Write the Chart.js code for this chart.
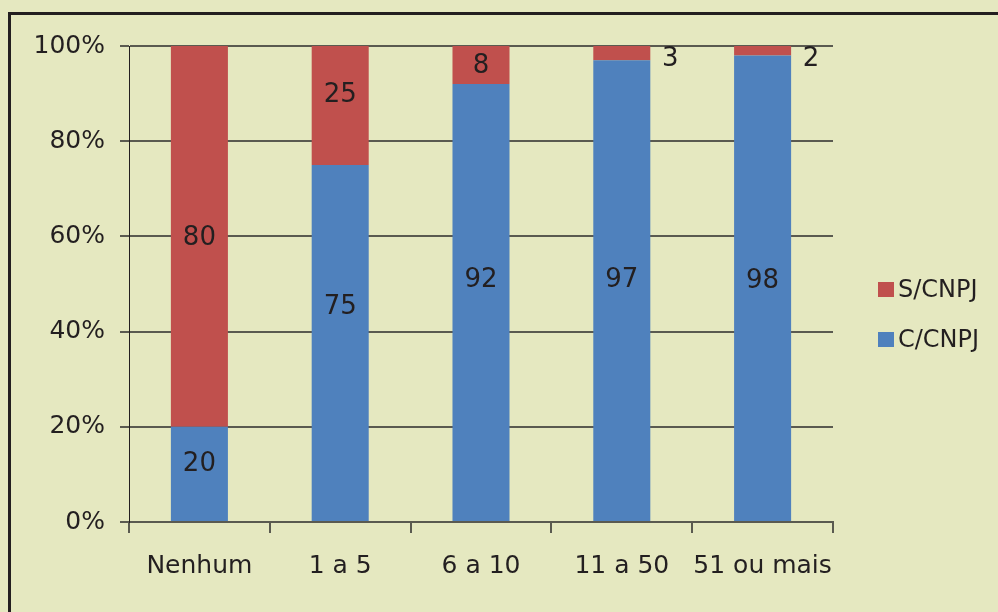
<!DOCTYPE html>
<html>
<head>
<meta charset="utf-8">
<script src="https://cdn.jsdelivr.net/npm/chart.js@4/dist/chart.umd.min.js"></script>
<style>
  html, body { margin: 0; padding: 0; background: #e5e8c0; }
  #wrap { width: 998px; height: 612px; position: relative; }
</style>
</head>
<body>
<div id="wrap"><canvas id="c" width="998" height="612"></canvas></div>
<script>
const categories = ['Nenhum', '1 a 5', '6 a 10', '11 a 50', '51 ou mais'];
const comCNPJ = [20, 75, 92, 97, 98];
const semCNPJ = [80, 25, 8, 3, 2];
const yTicks = [0, 20, 40, 60, 80, 100];

const BG = '#e5e8c0';
const TEXT = '#231f20';
const AXIS = '#5a5a50';
const FONT = 'DejaVu Sans';
const BLUE = '#4f81bd';
const RED = '#c0504d';

// background + frame
const framePlugin = {
  id: 'frame',
  beforeDraw(chart) {
    const ctx = chart.ctx;
    ctx.save();
    ctx.fillStyle = BG;
    ctx.fillRect(0, 0, chart.width, chart.height);
    ctx.strokeStyle = '#231f20';
    ctx.lineWidth = 3;
    ctx.strokeRect(9.5, 13.5, chart.width + 20, chart.height + 20);
    ctx.restore();
  }
};

// value labels inside segments; tiny segments get their label beside the bar
const labelPlugin = {
  id: 'valueLabels',
  afterDatasetsDraw(chart, args, opts) {
    const ctx = chart.ctx;
    ctx.save();
    ctx.font = '26px "' + FONT + '"';
    ctx.fillStyle = TEXT;
    ctx.textAlign = 'center';
    ctx.textBaseline = 'middle';
    chart.data.datasets.forEach((ds, di) => {
      const meta = chart.getDatasetMeta(di);
      const nudge = (opts.nudge && opts.nudge[di]) || [];
      meta.data.forEach((bar, i) => {
        const v = ds.data[i];
        const top = Math.min(bar.y, bar.base);
        const bottom = Math.max(bar.y, bar.base);
        if (v < 5) {
          ctx.fillText(String(v), bar.x + bar.width / 2 + 20, top + 13);
        } else {
          ctx.fillText(String(v), bar.x, (top + bottom) / 2 + 1 + (nudge[i] || 0));
        }
      });
    });
    ctx.restore();
  }
};

// legend on the right
const legendPlugin = {
  id: 'sideLegend',
  afterDraw(chart) {
    const ctx = chart.ctx;
    const items = [...chart.data.datasets].reverse();
    ctx.save();
    ctx.font = '24px "' + FONT + '"';
    ctx.textBaseline = 'middle';
    ctx.textAlign = 'left';
    items.forEach((ds, k) => {
      const cy = 290 + k * 50;
      ctx.fillStyle = ds.backgroundColor;
      ctx.fillRect(878, cy - 8, 16, 15);
      ctx.fillStyle = TEXT;
      ctx.fillText(ds.label, 898, cy + 1);
    });
    ctx.restore();
  }
};

new Chart(document.getElementById('c'), {
  type: 'bar',
  data: {
    labels: categories,
    datasets: [
      { label: 'C/CNPJ', data: comCNPJ, backgroundColor: BLUE },
      { label: 'S/CNPJ', data: semCNPJ, backgroundColor: RED }
    ]
  },
  options: {
    responsive: false,
    animation: false,
    devicePixelRatio: 1,
    layout: { padding: { top: 46, right: 165, left: 0, bottom: 0 } },
    datasets: { bar: { categoryPercentage: 1, barPercentage: 0.405 } },
    plugins: {
      legend: { display: false },
      tooltip: { enabled: false },
      valueLabels: { nudge: [[-11, -37, -23, -11, -8], [1, -11, 0, 0, 0]] }
    },
    scales: {
      x: {
        stacked: true,
        grid: { display: true, drawOnChartArea: false, drawTicks: true, tickLength: 11, color: AXIS, lineWidth: 2, offset: true },
        border: { display: true, color: AXIS, width: 2 },
        ticks: { color: TEXT, font: { family: FONT, size: 25 }, padding: 18, maxRotation: 0, minRotation: 0, autoSkip: false },
        afterFit(s) { s.height = 90; }
      },
      y: {
        stacked: true,
        min: 0, max: 100,
        afterBuildTicks(s) { s.ticks = yTicks.map(v => ({ value: v })); },
        grid: { color: AXIS, lineWidth: 2, tickLength: 9, drawTicks: true },
        border: { display: true, color: '#231f20', width: 1 },
        ticks: { color: TEXT, font: { family: FONT, size: 25 }, padding: 15, callback: v => v + '%' },
        afterFit(s) { s.width = 129; }
      }
    }
  },
  plugins: [framePlugin, labelPlugin, legendPlugin]
});
</script>
</body>
</html>
